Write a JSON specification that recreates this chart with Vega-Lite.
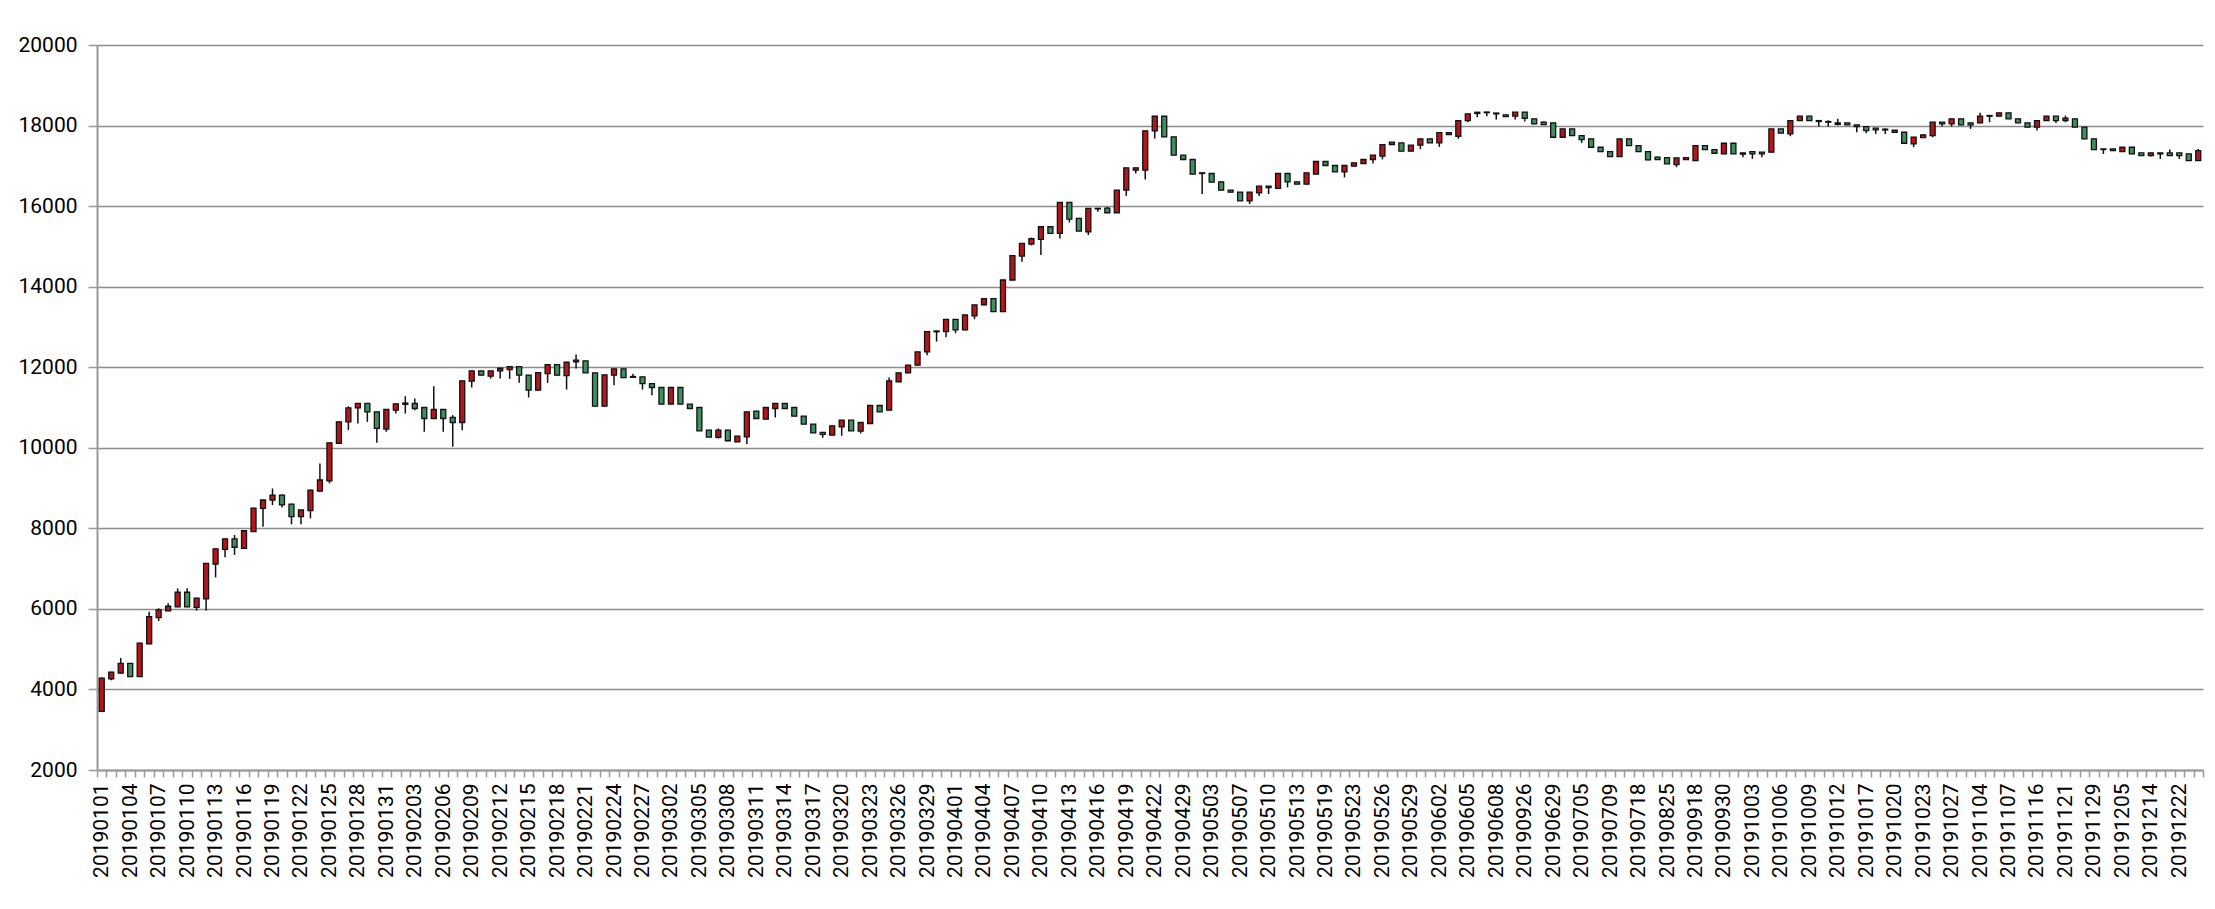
{
"$schema": "https://vega.github.io/schema/vega-lite/v6.json",
"width": 2106, "height": 725,
"autosize": {"type": "none"},
"padding": {"left": 97, "top": 45, "right": 12, "bottom": 139},
"background": "white",
"config": {"view": {"stroke": null}, "axis": {"labelFont": "Roboto", "labelFontSize": 21, "labelColor": "#000"}},
"data": {"values": [
{"d":"20190101","o":3455,"c":4280,"h":4300,"l":3440},
{"d":"20190102","o":4265,"c":4430,"h":4440,"l":4230},
{"d":"20190103","o":4405,"c":4645,"h":4780,"l":4390},
{"d":"20190104","o":4645,"c":4320,"h":4650,"l":4310},
{"d":"20190105","o":4320,"c":5150,"h":5160,"l":4310},
{"d":"20190106","o":5130,"c":5810,"h":5930,"l":5120},
{"d":"20190107","o":5785,"c":5975,"h":6015,"l":5700},
{"d":"20190108","o":5950,"c":6066,"h":6140,"l":5940},
{"d":"20190109","o":6050,"c":6413,"h":6510,"l":6040},
{"d":"20190110","o":6413,"c":6050,"h":6510,"l":6040},
{"d":"20190111","o":6040,"c":6265,"h":6280,"l":5960},
{"d":"20190112","o":6250,"c":7130,"h":7140,"l":5960},
{"d":"20190113","o":7110,"c":7490,"h":7500,"l":6780},
{"d":"20190114","o":7480,"c":7736,"h":7750,"l":7280},
{"d":"20190115","o":7736,"c":7530,"h":7835,"l":7340},
{"d":"20190116","o":7500,"c":7940,"h":7950,"l":7490},
{"d":"20190117","o":7920,"c":8500,"h":8510,"l":7910},
{"d":"20190118","o":8496,"c":8703,"h":8710,"l":8040},
{"d":"20190119","o":8700,"c":8826,"h":8990,"l":8580},
{"d":"20190120","o":8826,"c":8580,"h":8840,"l":8520},
{"d":"20190121","o":8600,"c":8290,"h":8610,"l":8100},
{"d":"20190122","o":8290,"c":8455,"h":8460,"l":8100},
{"d":"20190123","o":8440,"c":8950,"h":8960,"l":8250},
{"d":"20190124","o":8926,"c":9200,"h":9610,"l":8910},
{"d":"20190125","o":9180,"c":10124,"h":10130,"l":9116},
{"d":"20190126","o":10107,"c":10645,"h":10650,"l":10100},
{"d":"20190127","o":10645,"c":10992,"h":11030,"l":10440},
{"d":"20190128","o":10992,"c":11100,"h":11110,"l":10600},
{"d":"20190129","o":11100,"c":10893,"h":11110,"l":10645},
{"d":"20190130","o":10893,"c":10480,"h":10900,"l":10124},
{"d":"20190131","o":10463,"c":10950,"h":10960,"l":10397},
{"d":"20190201","o":10934,"c":11091,"h":11100,"l":10850},
{"d":"20190202","o":11080,"c":11110,"h":11280,"l":10850},
{"d":"20190203","o":11099,"c":10975,"h":11223,"l":10934},
{"d":"20190204","o":11000,"c":10727,"h":11010,"l":10397},
{"d":"20190205","o":10727,"c":10950,"h":11530,"l":10720},
{"d":"20190206","o":10950,"c":10727,"h":10960,"l":10397},
{"d":"20190207","o":10752,"c":10628,"h":10810,"l":10025},
{"d":"20190208","o":10628,"c":11661,"h":11670,"l":10438},
{"d":"20190209","o":11653,"c":11909,"h":11915,"l":11496},
{"d":"20190210","o":11909,"c":11802,"h":11915,"l":11795},
{"d":"20190211","o":11777,"c":11909,"h":11915,"l":11719},
{"d":"20190212","o":11909,"c":11975,"h":11980,"l":11719},
{"d":"20190213","o":11942,"c":12017,"h":12020,"l":11711},
{"d":"20190214","o":12017,"c":11802,"h":12020,"l":11612},
{"d":"20190215","o":11802,"c":11430,"h":11810,"l":11248},
{"d":"20190216","o":11430,"c":11868,"h":11875,"l":11425},
{"d":"20190217","o":11843,"c":12066,"h":12070,"l":11612},
{"d":"20190218","o":12066,"c":11802,"h":12070,"l":11795},
{"d":"20190219","o":11793,"c":12124,"h":12130,"l":11446},
{"d":"20190220","o":12132,"c":12174,"h":12314,"l":11967},
{"d":"20190221","o":12157,"c":11860,"h":12165,"l":11855},
{"d":"20190222","o":11860,"c":11033,"h":11865,"l":11030},
{"d":"20190223","o":11033,"c":11810,"h":11815,"l":11030},
{"d":"20190224","o":11802,"c":11959,"h":11965,"l":11554},
{"d":"20190225","o":11959,"c":11744,"h":11965,"l":11740},
{"d":"20190226","o":11770,"c":11750,"h":11840,"l":11740},
{"d":"20190227","o":11760,"c":11595,"h":11765,"l":11446},
{"d":"20190228","o":11595,"c":11496,"h":11600,"l":11306},
{"d":"20190301","o":11496,"c":11083,"h":11500,"l":11080},
{"d":"20190302","o":11083,"c":11496,"h":11500,"l":11080},
{"d":"20190303","o":11496,"c":11083,"h":11500,"l":11080},
{"d":"20190304","o":11083,"c":10975,"h":11090,"l":10970},
{"d":"20190305","o":11000,"c":10422,"h":11005,"l":10420},
{"d":"20190306","o":10438,"c":10265,"h":10445,"l":10260},
{"d":"20190307","o":10257,"c":10438,"h":10480,"l":10230},
{"d":"20190308","o":10438,"c":10174,"h":10445,"l":10170},
{"d":"20190309","o":10149,"c":10289,"h":10295,"l":10140},
{"d":"20190310","o":10273,"c":10893,"h":10900,"l":10091},
{"d":"20190311","o":10909,"c":10727,"h":10915,"l":10720},
{"d":"20190312","o":10711,"c":11000,"h":11005,"l":10700},
{"d":"20190313","o":10975,"c":11099,"h":11105,"l":10752},
{"d":"20190314","o":11099,"c":10975,"h":11105,"l":10970},
{"d":"20190315","o":11000,"c":10785,"h":11005,"l":10780},
{"d":"20190316","o":10785,"c":10587,"h":10790,"l":10580},
{"d":"20190317","o":10587,"c":10372,"h":10590,"l":10370},
{"d":"20190318","o":10380,"c":10331,"h":10390,"l":10248},
{"d":"20190319","o":10314,"c":10546,"h":10550,"l":10310},
{"d":"20190320","o":10521,"c":10686,"h":10690,"l":10298},
{"d":"20190321","o":10686,"c":10422,"h":10690,"l":10420},
{"d":"20190322","o":10413,"c":10628,"h":10635,"l":10355},
{"d":"20190323","o":10603,"c":11050,"h":11055,"l":10600},
{"d":"20190324","o":11050,"c":10893,"h":11055,"l":10890},
{"d":"20190325","o":10934,"c":11661,"h":11744,"l":10930},
{"d":"20190326","o":11636,"c":11860,"h":11870,"l":11630},
{"d":"20190327","o":11860,"c":12050,"h":12060,"l":11850},
{"d":"20190328","o":12050,"c":12380,"h":12390,"l":12040},
{"d":"20190329","o":12380,"c":12885,"h":12890,"l":12300},
{"d":"20190330","o":12880,"c":12900,"h":12905,"l":12637},
{"d":"20190331","o":12885,"c":13190,"h":13195,"l":12744},
{"d":"20190401","o":13190,"c":12926,"h":13195,"l":12843},
{"d":"20190402","o":12926,"c":13298,"h":13300,"l":12920},
{"d":"20190403","o":13273,"c":13546,"h":13550,"l":13190},
{"d":"20190404","o":13546,"c":13703,"h":13710,"l":13540},
{"d":"20190405","o":13703,"c":13380,"h":13710,"l":13375},
{"d":"20190406","o":13380,"c":14166,"h":14170,"l":13375},
{"d":"20190407","o":14166,"c":14769,"h":14775,"l":14160},
{"d":"20190408","o":14760,"c":15075,"h":15080,"l":14620},
{"d":"20190409","o":15058,"c":15190,"h":15220,"l":15025},
{"d":"20190410","o":15174,"c":15488,"h":15495,"l":14785},
{"d":"20190411","o":15488,"c":15322,"h":15495,"l":15315},
{"d":"20190412","o":15322,"c":16091,"h":16095,"l":15198},
{"d":"20190413","o":16091,"c":15678,"h":16095,"l":15595},
{"d":"20190414","o":15694,"c":15380,"h":15700,"l":15375},
{"d":"20190415","o":15364,"c":15942,"h":15950,"l":15281},
{"d":"20190416","o":15930,"c":15945,"h":15950,"l":15860},
{"d":"20190417","o":15950,"c":15835,"h":15980,"l":15830},
{"d":"20190418","o":15835,"c":16397,"h":16400,"l":15830},
{"d":"20190419","o":16397,"c":16950,"h":16955,"l":16256},
{"d":"20190420","o":16893,"c":16950,"h":16955,"l":16810},
{"d":"20190421","o":16893,"c":17868,"h":17875,"l":16661},
{"d":"20190422","o":17868,"c":18231,"h":18235,"l":17678},
{"d":"20190424","o":18231,"c":17719,"h":18235,"l":17715},
{"d":"20190426","o":17719,"c":17264,"h":17725,"l":17260},
{"d":"20190429","o":17264,"c":17157,"h":17270,"l":17150},
{"d":"20190430","o":17157,"c":16793,"h":17160,"l":16790},
{"d":"20190502","o":16826,"c":16810,"h":16835,"l":16298},
{"d":"20190503","o":16810,"c":16595,"h":16815,"l":16590},
{"d":"20190505","o":16603,"c":16397,"h":16610,"l":16390},
{"d":"20190506","o":16397,"c":16347,"h":16400,"l":16340},
{"d":"20190507","o":16347,"c":16132,"h":16350,"l":16130},
{"d":"20190508","o":16132,"c":16347,"h":16350,"l":16050},
{"d":"20190509","o":16331,"c":16496,"h":16500,"l":16248},
{"d":"20190510","o":16496,"c":16460,"h":16505,"l":16298},
{"d":"20190511","o":16438,"c":16810,"h":16815,"l":16430},
{"d":"20190512","o":16810,"c":16603,"h":16815,"l":16463},
{"d":"20190513","o":16603,"c":16545,"h":16610,"l":16540},
{"d":"20190515","o":16545,"c":16826,"h":16830,"l":16540},
{"d":"20190517","o":16793,"c":17107,"h":17110,"l":16790},
{"d":"20190519","o":17107,"c":17008,"h":17110,"l":17000},
{"d":"20190520","o":17008,"c":16851,"h":17010,"l":16845},
{"d":"20190522","o":16851,"c":17008,"h":17010,"l":16711},
{"d":"20190523","o":16992,"c":17074,"h":17080,"l":16985},
{"d":"20190524","o":17058,"c":17157,"h":17160,"l":17050},
{"d":"20190525","o":17157,"c":17264,"h":17270,"l":17058},
{"d":"20190526","o":17240,"c":17529,"h":17535,"l":17157},
{"d":"20190527","o":17529,"c":17587,"h":17590,"l":17520},
{"d":"20190528","o":17570,"c":17364,"h":17575,"l":17360},
{"d":"20190529","o":17364,"c":17512,"h":17515,"l":17360},
{"d":"20190531","o":17512,"c":17669,"h":17675,"l":17413},
{"d":"20190601","o":17669,"c":17570,"h":17675,"l":17565},
{"d":"20190602","o":17570,"c":17826,"h":17830,"l":17471},
{"d":"20190603","o":17777,"c":17826,"h":17830,"l":17770},
{"d":"20190604","o":17735,"c":18124,"h":18130,"l":17669},
{"d":"20190605","o":18124,"c":18290,"h":18295,"l":18083},
{"d":"20190606","o":18331,"c":18300,"h":18335,"l":18207},
{"d":"20190607","o":18320,"c":18335,"h":18340,"l":18230},
{"d":"20190608","o":18310,"c":18290,"h":18315,"l":18150},
{"d":"20190612","o":18265,"c":18223,"h":18270,"l":18220},
{"d":"20190618","o":18232,"c":18331,"h":18335,"l":18149},
{"d":"20190926","o":18331,"c":18182,"h":18335,"l":18099},
{"d":"20190620","o":18166,"c":18041,"h":18170,"l":18035},
{"d":"20190625","o":18083,"c":18025,"h":18100,"l":18020},
{"d":"20190629","o":18066,"c":17710,"h":18070,"l":17705},
{"d":"20190701","o":17710,"c":17917,"h":17920,"l":17705},
{"d":"20190703","o":17917,"c":17752,"h":17920,"l":17745},
{"d":"20190705","o":17752,"c":17652,"h":17755,"l":17570},
{"d":"20190706","o":17669,"c":17462,"h":17675,"l":17455},
{"d":"20190708","o":17462,"c":17354,"h":17465,"l":17350},
{"d":"20190709","o":17354,"c":17230,"h":17360,"l":17225},
{"d":"20190712","o":17230,"c":17669,"h":17675,"l":17225},
{"d":"20190715","o":17669,"c":17503,"h":17675,"l":17500},
{"d":"20190718","o":17503,"c":17354,"h":17510,"l":17350},
{"d":"20190722","o":17354,"c":17147,"h":17360,"l":17140},
{"d":"20190805","o":17214,"c":17156,"h":17230,"l":17150},
{"d":"20190825","o":17205,"c":17048,"h":17210,"l":17045},
{"d":"20190830","o":17032,"c":17197,"h":17200,"l":16966},
{"d":"20190910","o":17156,"c":17205,"h":17210,"l":17150},
{"d":"20190918","o":17131,"c":17503,"h":17510,"l":17125},
{"d":"20190922","o":17503,"c":17404,"h":17510,"l":17400},
{"d":"20190925","o":17404,"c":17313,"h":17410,"l":17310},
{"d":"20190930","o":17296,"c":17561,"h":17565,"l":17290},
{"d":"20191001","o":17561,"c":17296,"h":17565,"l":17290},
{"d":"20191002","o":17321,"c":17290,"h":17325,"l":17214},
{"d":"20191003","o":17354,"c":17296,"h":17360,"l":17172},
{"d":"20191004","o":17338,"c":17296,"h":17340,"l":17214},
{"d":"20191005","o":17338,"c":17917,"h":17920,"l":17330},
{"d":"20191006","o":17917,"c":17810,"h":17920,"l":17805},
{"d":"20191007","o":17793,"c":18124,"h":18130,"l":17735},
{"d":"20191008","o":18124,"c":18232,"h":18240,"l":18120},
{"d":"20191009","o":18232,"c":18124,"h":18240,"l":18120},
{"d":"20191010","o":18124,"c":18100,"h":18130,"l":17975},
{"d":"20191011","o":18100,"c":18083,"h":18130,"l":17975},
{"d":"20191012","o":18033,"c":18066,"h":18166,"l":18000},
{"d":"20191014","o":18066,"c":18017,"h":18070,"l":18010},
{"d":"20191015","o":18017,"c":17975,"h":18020,"l":17834},
{"d":"20191017","o":17975,"c":17876,"h":17980,"l":17810},
{"d":"20191018","o":17934,"c":17892,"h":17935,"l":17793},
{"d":"20191019","o":17910,"c":17890,"h":17935,"l":17793},
{"d":"20191020","o":17884,"c":17834,"h":17890,"l":17830},
{"d":"20191021","o":17834,"c":17561,"h":17840,"l":17555},
{"d":"20191022","o":17545,"c":17710,"h":17715,"l":17462},
{"d":"20191023","o":17702,"c":17768,"h":17775,"l":17700},
{"d":"20191024","o":17752,"c":18083,"h":18090,"l":17710},
{"d":"20191025","o":18083,"c":18041,"h":18090,"l":17975},
{"d":"20191027","o":18041,"c":18166,"h":18170,"l":17975},
{"d":"20191030","o":18166,"c":18017,"h":18170,"l":18010},
{"d":"20191101","o":18066,"c":18017,"h":18070,"l":17917},
{"d":"20191104","o":18066,"c":18232,"h":18315,"l":18060},
{"d":"20191105","o":18232,"c":18250,"h":18255,"l":18083},
{"d":"20191106","o":18232,"c":18315,"h":18320,"l":18230},
{"d":"20191107","o":18315,"c":18166,"h":18320,"l":18160},
{"d":"20191110","o":18166,"c":18066,"h":18170,"l":18060},
{"d":"20191113","o":18066,"c":17959,"h":18070,"l":17955},
{"d":"20191116","o":17959,"c":18124,"h":18130,"l":17876},
{"d":"20191118","o":18124,"c":18232,"h":18240,"l":18120},
{"d":"20191120","o":18232,"c":18124,"h":18240,"l":18066},
{"d":"20191121","o":18124,"c":18182,"h":18248,"l":18083},
{"d":"20191123","o":18166,"c":17959,"h":18170,"l":17955},
{"d":"20191126","o":17959,"c":17669,"h":17965,"l":17665},
{"d":"20191129","o":17669,"c":17404,"h":17675,"l":17400},
{"d":"20191201","o":17420,"c":17404,"h":17425,"l":17296},
{"d":"20191203","o":17420,"c":17379,"h":17425,"l":17375},
{"d":"20191205","o":17354,"c":17462,"h":17465,"l":17350},
{"d":"20191208","o":17462,"c":17296,"h":17465,"l":17290},
{"d":"20191211","o":17321,"c":17255,"h":17325,"l":17250},
{"d":"20191214","o":17255,"c":17321,"h":17325,"l":17230},
{"d":"20191217","o":17321,"c":17296,"h":17325,"l":17172},
{"d":"20191220","o":17321,"c":17255,"h":17404,"l":17250},
{"d":"20191222","o":17321,"c":17255,"h":17325,"l":17172},
{"d":"20191225","o":17296,"c":17131,"h":17300,"l":17125},
{"d":"20191228","o":17131,"c":17379,"h":17420,"l":17125}
]},
"encoding": {
  "x": {"field": "d", "type": "ordinal", "sort": null,
    "scale": {"paddingInner": 0, "paddingOuter": 0},
    "axis": {"title": null, "labelAngle": -90, "tickBand": "extent", "tickSize": 7, "tickColor": "#999", "tickWidth": 1.5,
      "domainColor": "#999", "domainWidth": 2, "labelPadding": 6, "labelOverlap": false, "grid": false,
      "labelExpr": "indexof(['20190101','20190104','20190107','20190110','20190113','20190116','20190119','20190122','20190125','20190128','20190131','20190203','20190206','20190209','20190212','20190215','20190218','20190221','20190224','20190227','20190302','20190305','20190308','20190311','20190314','20190317','20190320','20190323','20190326','20190329','20190401','20190404','20190407','20190410','20190413','20190416','20190419','20190422','20190429','20190503','20190507','20190510','20190513','20190519','20190523','20190526','20190529','20190602','20190605','20190608','20190926','20190629','20190705','20190709','20190718','20190825','20190918','20190930','20191003','20191006','20191009','20191012','20191017','20191020','20191023','20191027','20191104','20191107','20191116','20191121','20191129','20191205','20191214','20191222'], datum.value) >= 0 ? datum.value : ''"}}
},
"layer": [
  {"mark": {"type": "rule", "color": "#111", "strokeWidth": 1.5},
   "encoding": {
     "y": {"field": "l", "type": "quantitative",
       "scale": {"domain": [2000, 20000], "nice": false, "zero": false},
       "axis": {"title": null, "values": [2000,4000,6000,8000,10000,12000,14000,16000,18000,20000], "format": "d",
         "tickSize": 9, "tickColor": "#999", "tickWidth": 1.5, "domainColor": "#999", "domainWidth": 2,
         "grid": true, "gridColor": "#8c8c8c", "gridWidth": 1.6, "labelPadding": 11}},
     "y2": {"field": "h"}}},
  {"mark": {"type": "bar", "width": 5, "stroke": "#111", "strokeWidth": 1.3},
   "encoding": {
     "y": {"field": "o", "type": "quantitative"},
     "y2": {"field": "c"},
     "fill": {"condition": {"test": "datum.c >= datum.o", "value": "#b5161b"}, "value": "#3f8f60"}}}
]
}
